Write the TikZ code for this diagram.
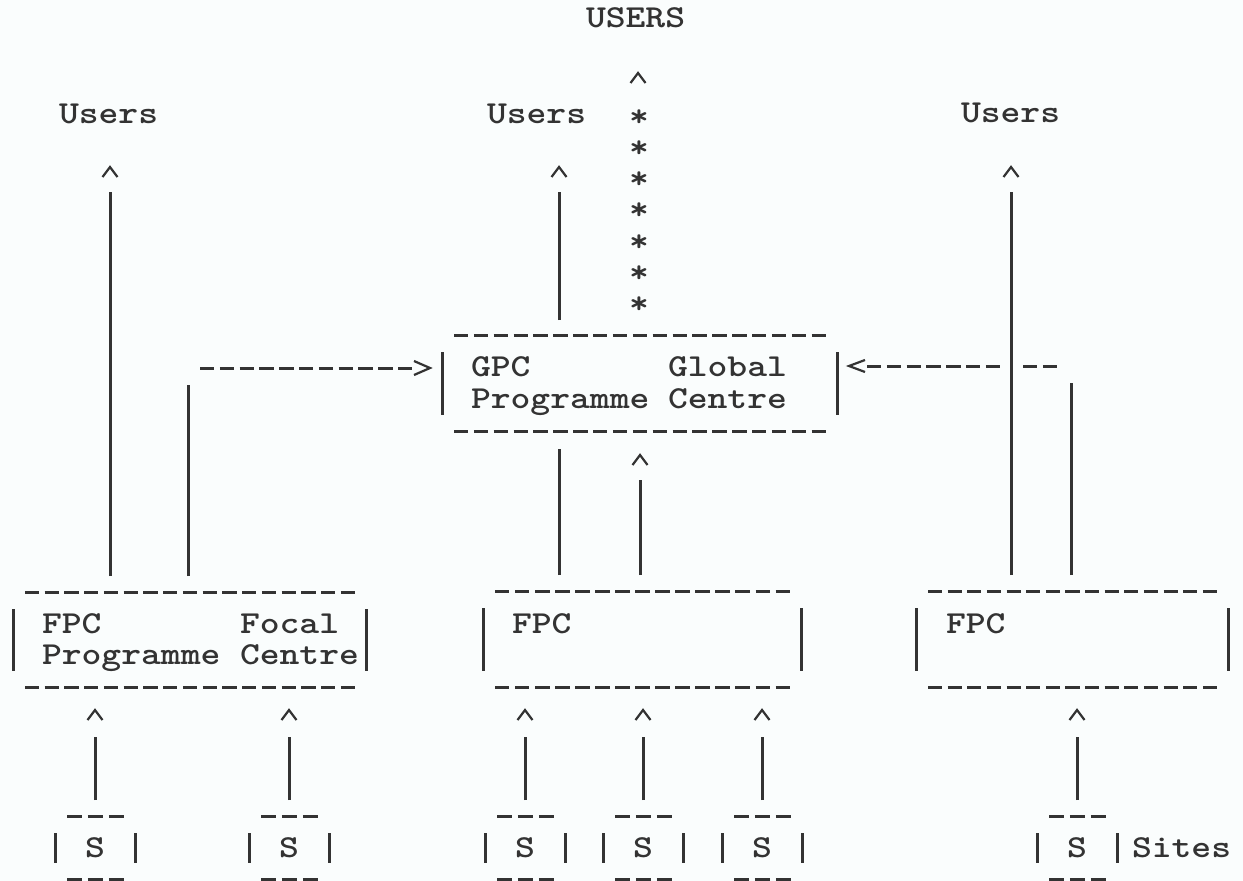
\documentclass[tikz,border=0pt]{standalone}
\usepackage{fontspec}
\usepackage{graphicx}
\usetikzlibrary{calc}
\definecolor{ink}{HTML}{333333}
\definecolor{paper}{HTML}{FAFDFD}
\tikzset{
  txt/.style={inner sep=0pt, outer sep=0pt, text=ink, font=\fontsize{32}{38}\selectfont\ttfamily\bfseries},
  lbl/.style={txt, anchor=base west},
  ctr/.style={txt, anchor=base},
  vline/.style={draw=ink, line width=3pt},
  dline/.style={draw=ink, line width=3pt},
  dashrow/.style={dline, dash pattern=on 14.3pt off 5.5pt},
  caretline/.style={draw=ink, line width=2.2pt, line join=miter},
  boxnode/.style={inner sep=0pt, outer sep=0pt, draw=none, rectangle},
  up/.style={vline, shorten <=16pt, shorten >=20pt},
}
\newcommand\tw[1]{\scalebox{1.18}[1]{#1}}
\newcommand\caret[1]{\draw[caretline] ($(#1)+(-7.5,5)$) -- ($(#1)+(0,-5)$) -- ($(#1)+(7.5,5)$);}
% name, cx, cy, w, h, n dashes
\newcommand\tbox[6]{%
  \node[boxnode, minimum width=#4pt, minimum height=#5pt] (#1) at (#2,#3) {};
  \pgfmathsetmacro\tbP{(#4-23)/(#6-0.28)}%
  \pgfmathsetmacro\tbOn{0.72*\tbP}%
  \pgfmathsetmacro\tbOff{0.28*\tbP}%
  \draw[dline, dash pattern=on \tbOn pt off \tbOff pt] ($(#1.north west)+(12,0)$) -- ($(#1.north east)+(-11,0)$);
  \draw[dline, dash pattern=on \tbOn pt off \tbOff pt] ($(#1.south west)+(12,0)$) -- ($(#1.south east)+(-11,0)$);
  \draw[vline] ([yshift=-17pt]#1.north west) -- ([yshift=16pt]#1.south west);
  \draw[vline] ([yshift=-17pt]#1.north east) -- ([yshift=16pt]#1.south east);
}
\begin{document}
\begin{tikzpicture}[x=1pt,y=-1pt]
\fill[paper] (0,0) rectangle (1243,881);
\useasboundingbox (0,0) rectangle (1243,881);

% ---------- boxes ----------
\tbox{gpc}{639.5}{383}{395}{96}{19}
\tbox{fpc1}{189.5}{639.5}{353}{95}{17}
\tbox{fpc2}{642}{639}{318}{96}{15}
\tbox{fpc3}{1072}{639}{312}{96}{15}
\tbox{s1}{95}{847.5}{80}{63}{3}
\tbox{s2}{289}{847.5}{80}{63}{3}
\tbox{s3}{525}{847.5}{80}{63}{3}
\tbox{s4}{643}{847.5}{80}{63}{3}
\tbox{s5}{762}{847.5}{80}{63}{3}
\tbox{s6}{1077}{847.5}{80}{63}{3}

% ---------- texts ----------
\node[lbl] (USERS) at (586,27) {\tw{USERS}};
\node[lbl] (uL) at (59,123) {\tw{Users}};
\node[lbl] (uM) at (487,123) {\tw{Users}};
\node[lbl] (uR) at (961,122) {\tw{Users}};

\node[lbl] (g1) at (471,376) {\tw{GPC}};
\node[lbl] (g2) at (668,376) {\tw{Global}};
\node[lbl] (g3) at (471,408) {\tw{Programme}};
\node[lbl] (g4) at (668,408) {\tw{Centre}};

\node[lbl] (f1a) at (42,633) {\tw{FPC}};
\node[lbl] (f1b) at (240,633) {\tw{Focal}};
\node[lbl] (f1c) at (42,664) {\tw{Programme}};
\node[lbl] (f1d) at (240,664) {\tw{Centre}};
\node[lbl] (f2a) at (512,633) {\tw{FPC}};
\node[lbl] (f3a) at (946,633) {\tw{FPC}};

\foreach \n in {s1,s2,s3,s4,s5,s6}{
  \node[ctr] (\n t) at ($(\n.center)+(0,9.5)$) {\tw{S}};
}
\node[lbl] (sites) at (1132,857) {\tw{Sites}};

% stars column towards USERS
\foreach \i in {0,...,6}{
  \node[ctr] (st\i) at (639,{126+31.3*\i}) {\tw{*}};
}
\coordinate (tS) at (638,78);
\caret{tS}

% ---------- connector coordinates ----------
\coordinate (tL) at (110,172);
\coordinate (tM) at (559,172);
\coordinate (tR) at (1011,172);
\coordinate (jL) at (188,368);
\coordinate (jR) at (1071,366);
\coordinate (tG) at (640,460);

% FPC -> Users
\draw[up] (fpc1.north -| tL) -- (tL); \caret{tL}
\draw[up] (fpc3.north -| tR) -- (tR); \caret{tR}
% GPC -> Users
\draw[vline, shorten <=15pt, shorten >=20pt] (gpc.north -| tM) -- (tM); \caret{tM}

% FPC1 -> GPC
\draw[vline, shorten <=16pt, shorten >=17pt] (fpc1.north -| jL) -- (jL);
\draw[dashrow] ($(jL)+(12,0)$) -- ($(gpc.west |- jL)+(-29,0)$);
\draw[caretline] ($(gpc.west |- jL)+(-28,-7)$) -- ($(gpc.west |- jL)+(-12,0)$) -- ($(gpc.west |- jL)+(-28,7)$);

% FPC3 -> GPC
\draw[vline, shorten <=16pt, shorten >=17pt] (fpc3.north -| jR) -- (jR);
\draw[dashrow] ($(jR)+(-48,0)$) -- ($(jR)+(-12,0)$);
\draw[dashrow] ($(gpc.east |- jR)+(30,0)$) -- ($(jR)+(-69,0)$);
\draw[caretline] ($(gpc.east |- jR)+(28,-6)$) -- ($(gpc.east |- jR)+(12,0)$) -- ($(gpc.east |- jR)+(28,6)$);

% FPC2 <-> GPC
\draw[vline, shorten <=16pt, shorten >=18pt] (fpc2.north -| tM) -- (gpc.south -| tM);
\draw[up] (fpc2.north -| tG) -- (tG); \caret{tG}

% Sites -> FPC
\foreach \n/\f in {s1/fpc1,s2/fpc1,s3/fpc2,s4/fpc2,s5/fpc2,s6/fpc3}{
  \coordinate (\n c) at ($(\f.south -| \n)+(0,28)$);
  \draw[vline, shorten <=16pt, shorten >=22pt] (\n.north) -- (\n c);
  \caret{\n c}
}
\end{tikzpicture}
\end{document}
